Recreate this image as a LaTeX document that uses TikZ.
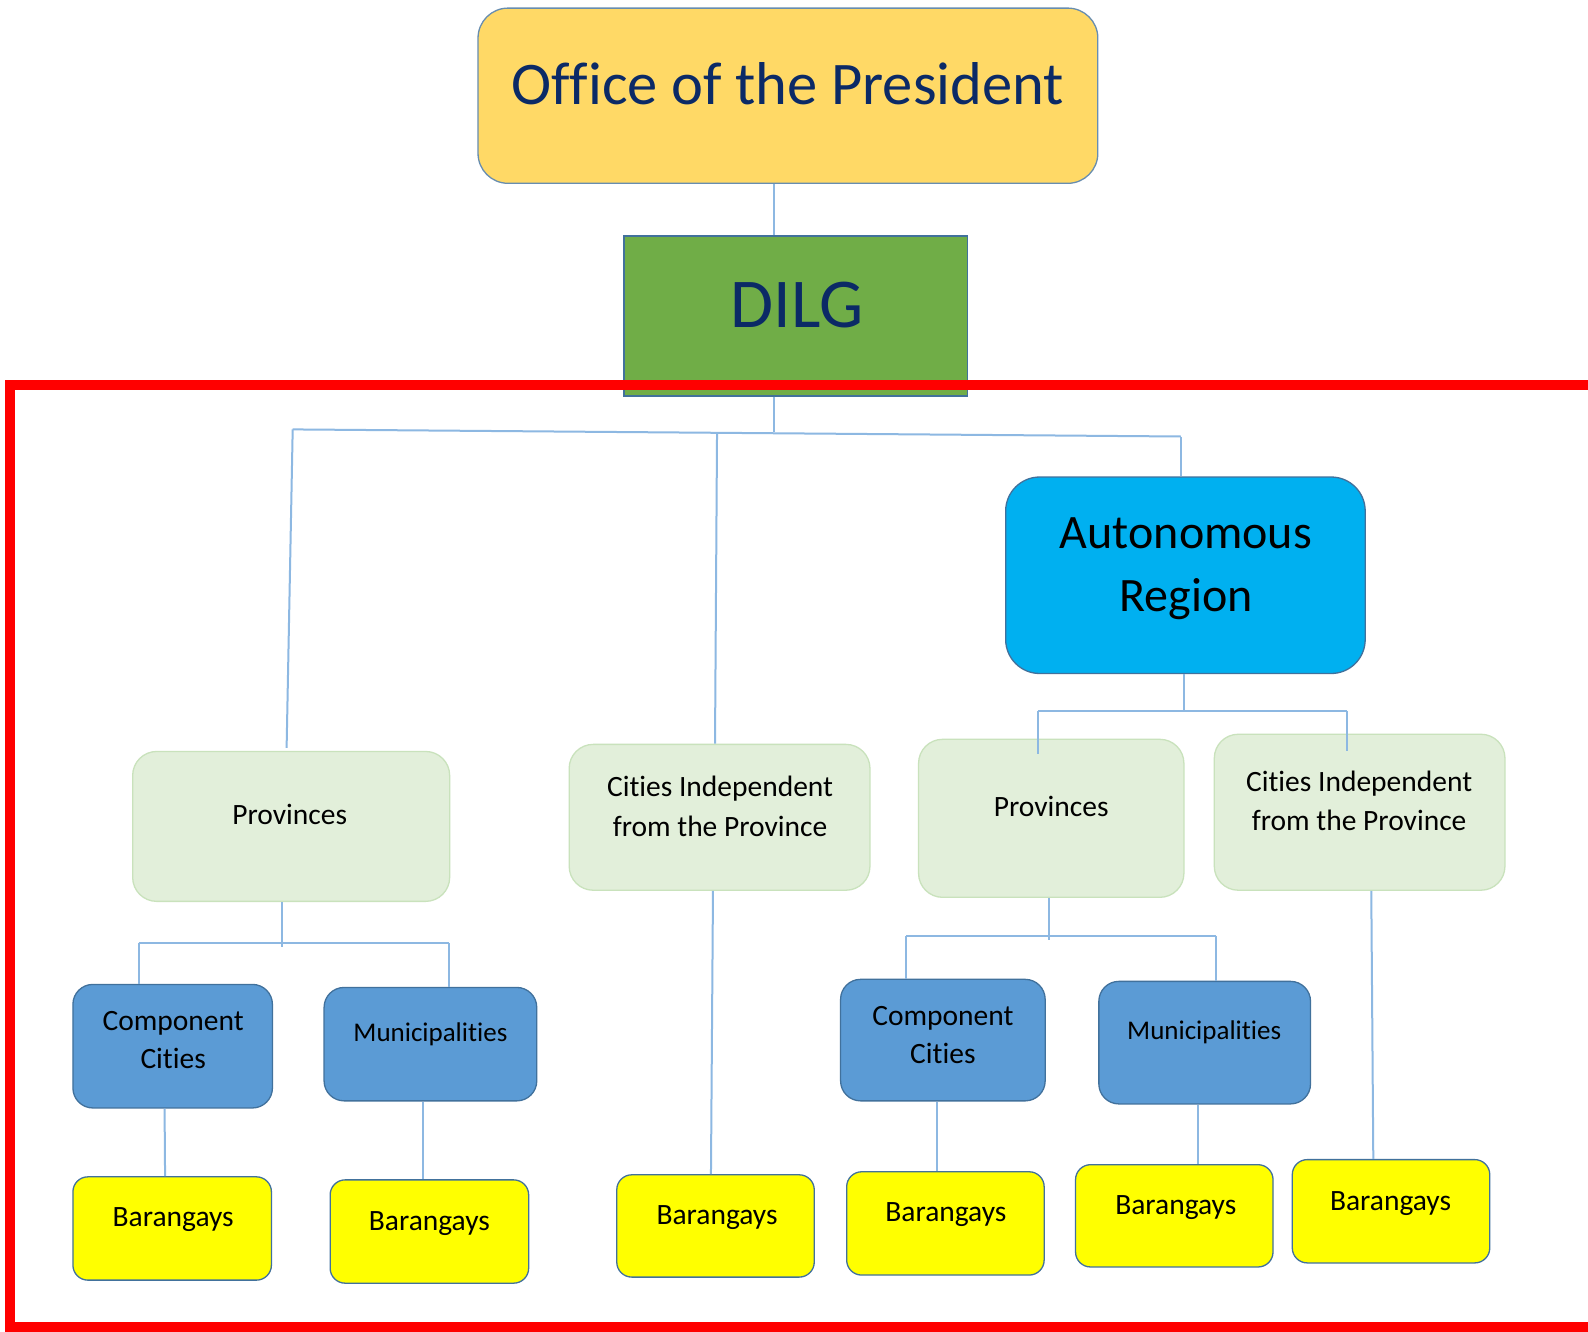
\documentclass[tikz,border=0pt]{standalone}
\usepackage{fontspec}
\setmainfont{Carlito}[Ligatures=NoCommon]
\usetikzlibrary{fit,calc}
\definecolor{gold}{HTML}{FFD966}
\definecolor{leaf}{HTML}{70AD47}
\definecolor{sky}{HTML}{00B0F0}
\definecolor{pale}{HTML}{E2EFDA}
\definecolor{paleedge}{HTML}{C9E2BC}
\definecolor{steel}{HTML}{5B9BD5}
\definecolor{steeledge}{HTML}{41719C}
\definecolor{lemon}{HTML}{FFFF00}
\definecolor{navy}{HTML}{0B2A66}
\definecolor{wire}{HTML}{8DB8E2}
\definecolor{frame}{HTML}{FF0000}
\tikzset{
  box/.style={inner sep=0pt, line width=1.3pt},
  topbox/.style={box, fill=gold, draw=steeledge!80, rounded corners=30pt},
  dilgbox/.style={box, fill=leaf, draw=steeledge},
  arbox/.style={box, fill=sky, draw=steeledge, rounded corners=34pt},
  unitbox/.style={box, fill=pale, draw=paleedge, rounded corners=24pt},
  lgubox/.style={box, fill=steel, draw=steeledge, rounded corners=20pt},
  brgybox/.style={box, fill=lemon, draw=steeledge, rounded corners=15pt},
  small/.style={font=\fontsize{29.5}{39.5}\selectfont, align=center, text=black},
  conn/.style={draw=wire, line width=2pt},
}
% box from corner (x1,y1) to corner (x2,y2)
\newcommand{\orgbox}[6]{%
  \path (#3,#4) coordinate (#2-a) (#5,#6) coordinate (#2-b);
  \node[#1, fit=(#2-a)(#2-b)] (#2) {};}
\begin{document}
\begin{tikzpicture}[x=1.0128pt, y=-1.0128pt]
\useasboundingbox (0,0) rectangle (1568,1315);
\clip (0,0) rectangle (1568,1315);
\fill[white] (0,0) rectangle (1568,1315);

% boxes
\orgbox{topbox}{office}{472}{8}{1084}{181}
\orgbox{dilgbox}{dilg}{616}{233}{955}{391}
\orgbox{arbox}{ar}{993}{471}{1348}{665}
\orgbox{unitbox}{provL}{131}{742}{444}{890}
\orgbox{unitbox}{cityM}{562}{735}{859}{879}
\orgbox{unitbox}{provR}{907}{730}{1169}{886}
\orgbox{unitbox}{cityR}{1199}{725}{1486}{879}
\orgbox{lgubox}{ccL}{72}{972}{269}{1094}
\orgbox{lgubox}{munL}{320}{975}{530}{1087}
\orgbox{lgubox}{ccR}{830}{967}{1032}{1087}
\orgbox{lgubox}{munR}{1085}{969}{1294}{1090}
\orgbox{brgybox}{barL1}{72}{1162}{268}{1264}
\orgbox{brgybox}{barL2}{326}{1165}{522}{1267}
\orgbox{brgybox}{barM}{609}{1160}{804}{1261}
\orgbox{brgybox}{barR1}{836}{1157}{1031}{1259}
\orgbox{brgybox}{barR2}{1062}{1150}{1257}{1251}
\orgbox{brgybox}{barR3}{1276}{1145}{1471}{1247}

% labels
\node[font=\fontsize{60.5}{70}\selectfont, text=navy, anchor=base] (office-t) at (778,103) {Office of the President};
\node[font=\fontsize{70}{80}\selectfont, text=navy, anchor=base] (dilg-t) at (787,323) {DILG};
\node[font=\fontsize{48}{63}\selectfont, align=center] (ar-t) at (1171,562) {Autonomous\\Region};
\node[small, anchor=base] (provL-t) at (286,814) {Provinces};
\node[small] (cityM-t) at (711,796) {Cities Independent\\from the Province};
\node[small, anchor=base] (provR-t) at (1038,806) {Provinces};
\node[small] (cityR-t) at (1342,791) {Cities Independent\\from the Province};
\node[small, font=\fontsize{29.5}{38.5}\selectfont] (ccL-t) at (171,1027) {Component\\Cities};
\node[small, font=\fontsize{27}{36}\selectfont, anchor=base] (munL-t) at (425,1028) {Municipalities};
\node[small, font=\fontsize{29.5}{38.5}\selectfont] (ccR-t) at (931,1022) {Component\\Cities};
\node[small, font=\fontsize{27}{36}\selectfont, anchor=base] (munR-t) at (1189,1026) {Municipalities};
\node[small, anchor=base] (barL1-t) at (171,1211) {Barangays};
\node[small, anchor=base] (barL2-t) at (424,1215) {Barangays};
\node[small, anchor=base] (barM-t) at (708,1209) {Barangays};
\node[small, anchor=base] (barR1-t) at (934,1206) {Barangays};
\node[small, anchor=base] (barR2-t) at (1161,1199) {Barangays};
\node[small, anchor=base] (barR3-t) at (1373,1195) {Barangays};

% junctions of the connector buses
\coordinate (j0) at (764,427);
\coordinate (bl) at (289,424);
\coordinate (bm) at (708,428);
\coordinate (br) at (1166,431);
\coordinate (jr) at (1169,702);
\coordinate (jrl) at (1025,702);
\coordinate (jrr) at (1330,702);
\coordinate (jl) at (278,931);
\coordinate (jll) at (137,931);
\coordinate (jlr) at (443,931);
\coordinate (jp) at (1036,924);
\coordinate (jpl) at (895,924);
\coordinate (jpr) at (1201,924);

% connectors
\draw[conn] (office.south -| j0) -- (dilg.north -| j0);
\draw[conn] (dilg.south -| j0) -- (j0);
\draw[conn] (bl) -- (br);
\draw[conn] (bl) -- ($(provL.north)+(-4.5,-3)$);
\draw[conn] (bm) -- ($(cityM.north)+(-4.5,0)$);
\draw[conn] (br) -- (ar.north -| br);

\draw[conn] (ar.south -| jr) -- (jr);
\draw[conn] (jrl) -- (jrr);
\draw[conn] (jrl) -- ($(provR.north -| jrl)+(0,15)$);
\draw[conn] (jrr) -- ($(cityR.north -| jrr)+(0,17)$);

\draw[conn] (provL.south -| jl) -- ($(jl)+(0,4)$);
\draw[conn] (jll) -- (jlr);
\draw[conn] (jll) -- (ccL.north -| jll);
\draw[conn] (jlr) -- (munL.north -| jlr);

\draw[conn] (provR.south -| jp) -- ($(jp)+(0,4)$);
\draw[conn] (jpl) -- (jpr);
\draw[conn] (jpl) -- (ccR.north -| jpl);
\draw[conn] (jpr) -- (munR.north -| jpr);

\draw[conn] ($(ccL.south)+(-8,0)$) -- (barL1.north -| 163,0);
\draw[conn] ($(munL.south)+(-7,0)$) -- (barL2.north -| 418,0);
\draw[conn] ($(cityM.south)+(-6.5,0)$) -- ($(barM.north)+(-4.5,0)$);
\draw[conn] ($(ccR.south)+(-6,0)$) -- (barR1.north -| 925,0);
\draw[conn] ($(munR.south)+(-6.5,0)$) -- (barR2.north -| 1183,0);
\draw[conn] ($(cityR.south)+(11.5,0)$) -- ($(barR3.north)+(-17.5,0)$);

% red frame over the lower part
\draw[frame, line width=10pt] (9.9,380) rectangle (1600,1310);
\end{tikzpicture}
\end{document}
